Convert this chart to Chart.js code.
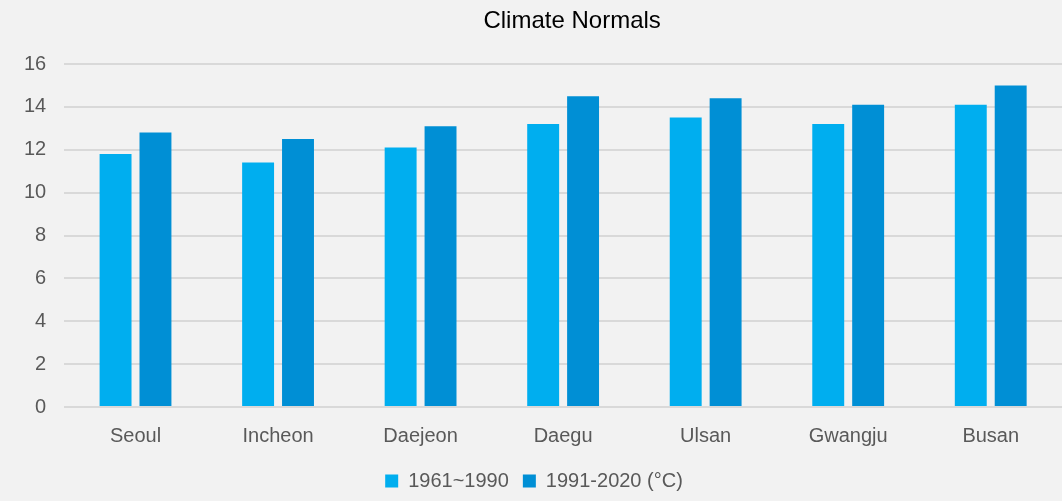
<!DOCTYPE html>
<html>
<head>
<meta charset="utf-8">
<script src="https://cdn.jsdelivr.net/npm/chart.js@4"></script>
<style>
  html, body { margin: 0; padding: 0; background: #f2f2f2; }
  #wrap { width: 1062px; height: 501px; }
</style>
</head>
<body>
<div id="wrap"><canvas id="myChart" width="1062" height="501"></canvas></div>
<script>
// categories and values
const cities = ['Seoul', 'Incheon', 'Daejeon', 'Daegu', 'Ulsan', 'Gwangju', 'Busan'];
const normals1961 = [11.8, 11.4, 12.1, 13.2, 13.5, 13.2, 14.1];
const normals1991 = [12.8, 12.5, 13.1, 14.5, 14.4, 14.1, 15.0];
const seriesNames = ['1961~1990', '1991-2020 (°C)'];
const chartTitle = 'Climate Normals';

const textColor = '#595959';

// title centred over the plot area, like the original
const plotTitle = {
  id: 'plotTitle',
  afterDraw(chart) {
    const ctx = chart.ctx;
    const area = chart.chartArea;
    ctx.save();
    ctx.font = '24px "Liberation Sans", Arial, sans-serif';
    ctx.fillStyle = '#000000';
    ctx.textAlign = 'center';
    ctx.textBaseline = 'middle';
    ctx.fillText(chartTitle, (area.left + area.right) / 2 + 9, 21);
    ctx.restore();
  }
};

const myChart = document.getElementById('myChart');

let barChart = new Chart(myChart, {
  type: 'bar',
  data: {
    labels: cities,
    datasets: [{
      label: seriesNames[0],
      data: normals1961,
      backgroundColor: '#00aeef',
      barPercentage: 0.8,
      categoryPercentage: 0.56
    }, {
      label: seriesNames[1],
      data: normals1991,
      backgroundColor: '#008fd5',
      barPercentage: 0.8,
      categoryPercentage: 0.56
    }]
  },
  options: {
    responsive: false,
    devicePixelRatio: 1,
    animation: false,
    layout: { padding: { top: 64, left: 6, right: 0, bottom: 0 } },
    plugins: {
      title: { display: false },
      tooltip: { enabled: false },
      legend: {
        position: 'bottom',
        labels: {
          color: textColor,
          font: { size: 20, family: '"Liberation Sans", Arial, sans-serif' },
          boxWidth: 13,
          boxHeight: 13,
          padding: 14
        }
      }
    },
    scales: {
      x: {
        grid: { display: false },
        border: { display: false },
        ticks: {
          color: textColor,
          padding: 9,
          font: { size: 20, family: '"Liberation Sans", Arial, sans-serif' }
        }
      },
      y: {
        min: 0,
        max: 16,
        border: { display: false },
        grid: { color: '#d9d9d9', lineWidth: 2, drawTicks: false },
        ticks: {
          stepSize: 2,
          color: textColor,
          padding: 18,
          font: { size: 20, family: '"Liberation Sans", Arial, sans-serif' }
        }
      }
    }
  },
  plugins: [plotTitle]
});
</script>
</body>
</html>
